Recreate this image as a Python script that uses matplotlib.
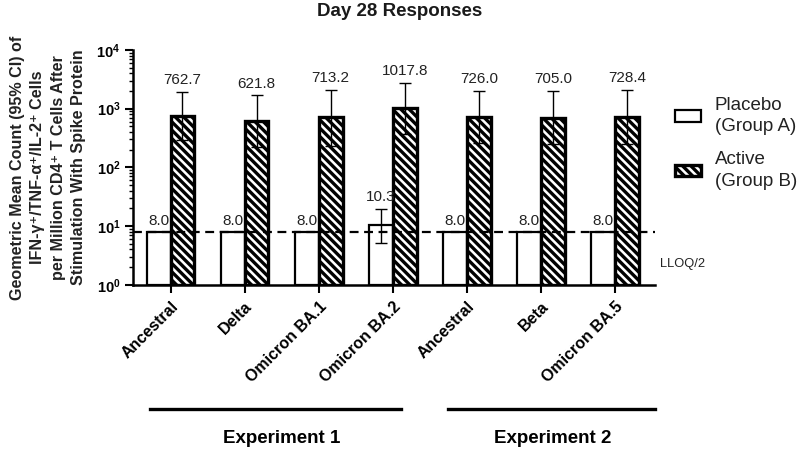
import matplotlib
matplotlib.use("Agg")
import matplotlib.pyplot as plt
import matplotlib.transforms as mtransforms
from matplotlib.patches import Patch
from matplotlib.ticker import LogLocator
import numpy as np

plt.rcParams['font.family'] = ['Liberation Sans', 'DejaVu Sans']
plt.rcParams['mathtext.fontset'] = 'custom'
plt.rcParams['mathtext.rm'] = 'Liberation Sans:bold'
plt.rcParams['mathtext.default'] = 'rm'
plt.rcParams['hatch.linewidth'] = 2.4

categories = ["Ancestral", "Delta", "Omicron BA.1", "Omicron BA.2", "Ancestral", "Beta", "Omicron BA.5"]
placebo = [8.0, 8.0, 8.0, 10.3, 8.0, 8.0, 8.0]
placebo_lo = [8.0, 8.0, 8.0, 5.1, 8.0, 8.0, 8.0]
placebo_hi = [8.0, 8.0, 8.0, 19.8, 8.0, 8.0, 8.0]
active = [762.7, 621.8, 713.2, 1017.8, 726.0, 705.0, 728.4]
active_lo = [295, 224, 233, 372, 258, 248, 250]
active_hi = [1950, 1680, 2090, 2700, 2000, 2000, 2080]
lloq_half = 8.0
experiments = ["Experiment 1", "Experiment 2"]
legend_labels = ["Placebo\n(Group A)", "Active\n(Group B)"]

fig = plt.figure(figsize=(8, 4.5), dpi=100)
ax = fig.add_axes([0.166, 0.367, 0.653, 0.522])

x = np.arange(len(categories))
w = 0.32
p = np.array(placebo); a = np.array(active)
ax.bar(x - w / 2, p - 1, width=w, bottom=1, color='white', edgecolor='black', linewidth=1.6, zorder=2)
ax.bar(x + w / 2, a - 1, width=w, bottom=1, color='white', edgecolor='black', linewidth=2.4,
       hatch='\\\\\\\\', zorder=2)

perr = [p - np.array(placebo_lo), np.array(placebo_hi) - p]
aerr = [a - np.array(active_lo), np.array(active_hi) - a]
mask = np.array(placebo_hi) > p
ax.errorbar((x - w / 2)[mask], p[mask], yerr=[perr[0][mask], perr[1][mask]], fmt='none',
            ecolor='black', elinewidth=1.0, capsize=4.3, capthick=1.0, zorder=3)
ax.errorbar(x + w / 2, a, yerr=aerr, fmt='none', ecolor='black', elinewidth=1.0,
            capsize=4.3, capthick=1.0, zorder=3)

for xi, v, hi in zip(x, placebo, placebo_hi):
    off = 3.5 if hi > v else 2.5
    ax.annotate(f"{v:.1f}", (xi - w / 2, max(v, hi)), xytext=(0, off), textcoords='offset points',
                ha='center', va='bottom', fontsize=11, color='#222222')
for xi, v, hi in zip(x, active, active_hi):
    ax.annotate(f"{v:.1f}", (xi + w / 2, hi), xytext=(0, 3.5), textcoords='offset points',
                ha='center', va='bottom', fontsize=11, color='#222222')

ax.axhline(lloq_half, color='black', linestyle=(0, (4, 2.5)), linewidth=1.6, zorder=4)

ax.set_yscale('log')
ax.set_ylim(1, 1e4)
ax.set_xlim(-0.51, 6.54)
ax.yaxis.set_major_locator(LogLocator(base=10, numticks=10))
ax.yaxis.set_minor_locator(LogLocator(base=10, subs=np.arange(2, 10), numticks=20))
ax.set_xticks(x)
ax.set_xticklabels(categories, rotation=45, ha='right', rotation_mode='anchor',
                   fontsize=11.5, fontweight='bold')
ax.tick_params(axis='x', length=6, width=1.5, pad=4)
ax.tick_params(axis='y', which='major', length=6, width=1.5, labelsize=10.5, pad=3)
ax.tick_params(axis='y', which='minor', length=3, width=1.0)
for lab in ax.get_yticklabels():
    lab.set_fontweight('bold')
for s in ['top', 'right']:
    ax.spines[s].set_visible(False)
for s in ['left', 'bottom']:
    ax.spines[s].set_linewidth(1.8)

ax.text(1.01, -0.136 + np.log10(lloq_half) / 4, "LLOQ/2", transform=ax.transAxes,
        fontsize=9.3, va='center', ha='left', color='#222222')

trans = mtransforms.blended_transform_factory(ax.transData, ax.transAxes)
spans = [(-0.28, 3.11), (3.74, 6.54)]
centers = [1.5, 5.15]
for (x0, x1), c, lab in zip(spans, centers, experiments):
    ax.plot([x0, x1], [-0.528, -0.528], color='black', linewidth=2.4, transform=trans, clip_on=False)
    ax.text(c, -0.655, lab, transform=trans, ha='center', va='center', fontsize=13.5, fontweight='bold')

fig.text(0.5, 0.975, "Day 28 Responses", ha='center', va='center', fontsize=13.5, fontweight='bold',
         color='#1a1a1a')
fig.text(0.06, 0.628, "Geometric Mean Count (95% CI) of\nIFN-γ\u207a/TNF-α\u207a/IL-2\u207a Cells\n"
         "per Million CD4\u207a T Cells After\nStimulation With Spike Protein",
         rotation=90, ha='center', va='center', fontsize=11.6, fontweight='bold', linespacing=1.42,
         family=['Liberation Sans', 'DejaVu Sans'], color='#222222')

handles = [Patch(facecolor='white', edgecolor='black', linewidth=1.6),
           Patch(facecolor='white', edgecolor='black', linewidth=2.4, hatch='\\\\\\\\')]
leg = fig.legend(handles, legend_labels, loc='upper left', bbox_to_anchor=(0.844, 0.785),
                 frameon=False, fontsize=13.5, handlelength=1.35, handleheight=0.55,
                 labelspacing=0.85, handletextpad=0.75, labelcolor='#222222', borderaxespad=0,
                 borderpad=0)
for t in leg.get_texts():
    t.set_linespacing(1.35)

fig.savefig("out.png", dpi=100)
